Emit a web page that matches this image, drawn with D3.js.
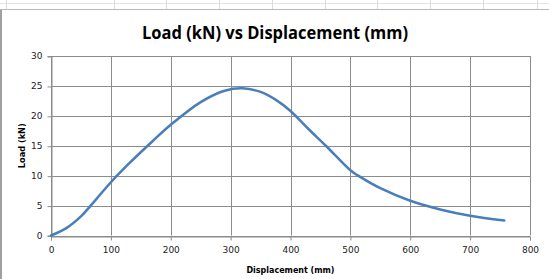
<!DOCTYPE html>
<html><head><meta charset="utf-8">
<script src="https://cdn.jsdelivr.net/npm/d3@7/dist/d3.min.js"></script>
<style>body{margin:0;background:#fff}svg{display:block}</style>
</head><body>
<script>
const displacement = [0, 25, 50, 75, 100, 130, 170, 200, 250, 290, 320, 350, 375, 400, 430, 459, 500, 513, 550, 600, 650, 700, 757];
const load =         [0, 1.2, 3.2, 6.0, 8.9, 12.0, 15.8, 18.5, 22.3, 24.2, 24.6, 24.0, 22.7, 20.8, 17.8, 15, 10.9, 10, 7.9, 5.8, 4.35, 3.3, 2.5];
const xTicks = [0, 100, 200, 300, 400, 500, 600, 700, 800];
const yTicks = [0, 5, 10, 15, 20, 25, 30];
const title = "Load (kN) vs Displacement (mm)";
const xTitle = "Displacement  (mm)";
const yTitle = "Load (kN)";

const W = 549, H = 279;
const svg = d3.select("body").append("svg").attr("width", W).attr("height", H);

// spreadsheet background above the chart
const bg = svg.append("g");
[3.5].forEach(y => bg.append("line").attr("x1",0).attr("x2",W).attr("y1",y).attr("y2",y).attr("stroke","#e4e4e4"));
[6, 114, 166, 219, 272, 325, 377, 430, 483, 537].forEach(x =>
  bg.append("line").attr("x1",x+0.5).attr("x2",x+0.5).attr("y1",0).attr("y2",9).attr("stroke","#dcdcdc"));
// chart frame
svg.append("line").attr("x1",0).attr("x2",W).attr("y1",9.5).attr("y2",9.5).attr("stroke","#b8b8b8");
svg.append("rect").attr("x",0).attr("y",10).attr("width",2).attr("height",H-10).attr("fill","#a0a0a0");

const x = d3.scaleLinear().domain([0, 800]).range([51, 530]);
const y = d3.scaleLinear().domain([0, 30]).range([235.5, 56]);

const grid = svg.append("g");
xTicks.forEach(t => grid.append("line")
  .attr("x1", Math.round(x(t))+0.5).attr("x2", Math.round(x(t))+0.5)
  .attr("y1", y(30)).attr("y2", y(0)).attr("stroke", "#8c8c8c"));
yTicks.forEach(t => grid.append("line")
  .attr("x1", x(0)).attr("x2", x(800))
  .attr("y1", Math.round(y(t))+0.5).attr("y2", Math.round(y(t))+0.5).attr("stroke", "#8c8c8c"));

const font = "'DejaVu Sans', Verdana, sans-serif";
const xAxis = svg.append("g").attr("transform", `translate(0,${Math.round(y(0))+0.5})`)
  .call(d3.axisBottom(x).tickValues(xTicks).tickSize(4).tickPadding(6).tickFormat(d3.format("d")));
const yAxis = svg.append("g").attr("transform", `translate(${Math.round(x(0))+0.5},0)`)
  .call(d3.axisLeft(y).tickValues(yTicks).tickSize(4).tickPadding(5).tickFormat(d3.format("d")));
[xAxis, yAxis].forEach(a => {
  a.select(".domain").attr("stroke", "#8c8c8c");
  a.selectAll(".tick line").attr("stroke", "#8c8c8c");
  a.selectAll(".tick text").attr("font-family", font).attr("font-size", "9px").attr("fill", "#222");
});
yAxis.selectAll(".tick line").attr("transform", "translate(0,0.5)");

const line = d3.line().x(d => x(d[0])).y(d => y(d[1])).curve(d3.curveCatmullRom.alpha(0.5));
svg.append("path").datum(displacement.map((d, i) => [d, load[i]]))
  .attr("d", line).attr("fill", "none").attr("stroke", "#4a7ebb").attr("stroke-width", 2.5)
  .attr("stroke-linecap", "round");

svg.append("text").attr("x", 275).attr("y", 38.5).attr("text-anchor", "middle")
  .attr("font-family", "'Open Sans', sans-serif").attr("font-weight", "bold").attr("font-size", "18px")
  .attr("textLength", 266).attr("lengthAdjust", "spacingAndGlyphs").attr("fill", "#000").text(title);
svg.append("text").attr("x", 290.5).attr("y", 273).attr("text-anchor", "middle")
  .attr("font-family", font).attr("font-weight", "bold").attr("font-size", "9px")
  .attr("textLength", 88).attr("lengthAdjust", "spacingAndGlyphs").attr("fill", "#000").text(xTitle);
svg.append("text").attr("transform", `translate(25,${(y(0)+y(30))/2}) rotate(-90)`).attr("text-anchor", "middle")
  .attr("font-family", font).attr("font-weight", "bold").attr("font-size", "9px")
  .attr("textLength", 45).attr("lengthAdjust", "spacingAndGlyphs").attr("fill", "#000").text(yTitle);
</script>
</body></html>
